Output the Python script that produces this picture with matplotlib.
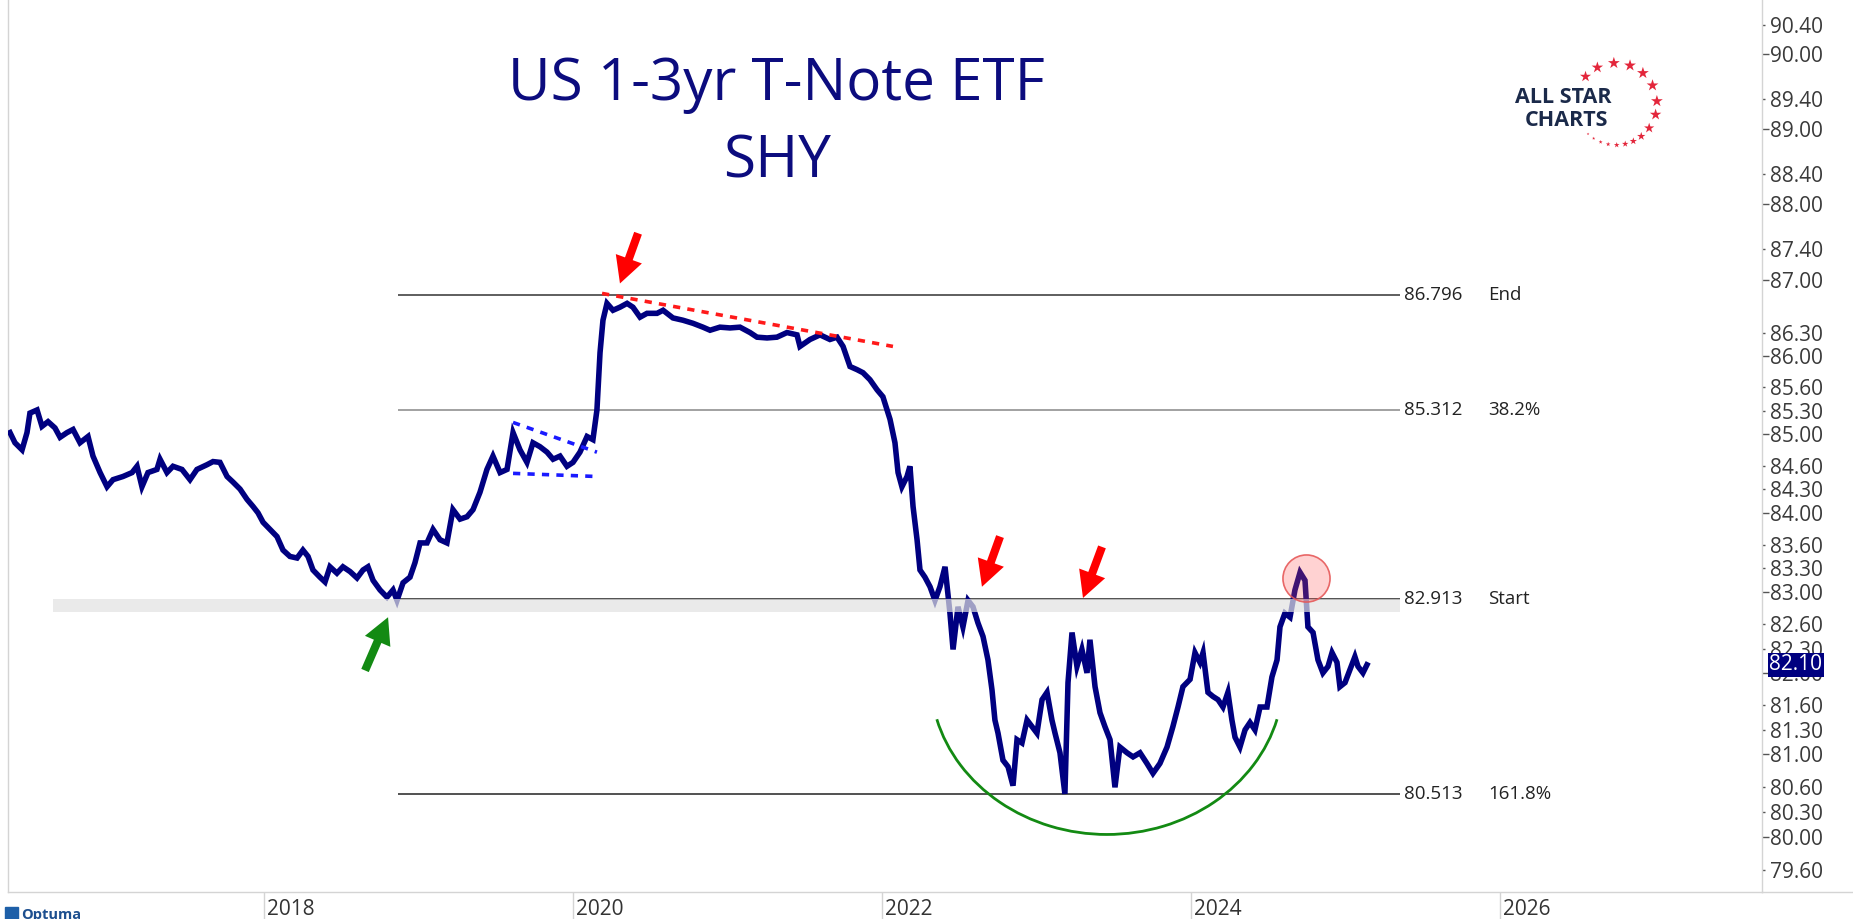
import numpy as np
import matplotlib
matplotlib.use("Agg")
import matplotlib.pyplot as plt
import matplotlib.transforms as mtransforms
from matplotlib.patches import Arc
from matplotlib.ticker import FixedLocator, FormatStrFormatter

plt.rcParams['font.family'] = ['Open Sans', 'DejaVu Sans']

# SHY price path (decimal year, price)
years = [2016.356, 2016.388, 2016.434, 2016.466, 2016.485, 2016.531, 2016.563, 2016.602, 2016.647, 2016.680,
         2016.725, 2016.764, 2016.809, 2016.861, 2016.893, 2016.939, 2016.984, 2017.023, 2017.087, 2017.146,
         2017.178, 2017.210, 2017.249, 2017.307, 2017.327, 2017.372, 2017.411, 2017.469, 2017.521, 2017.566,
         2017.631, 2017.670, 2017.715, 2017.761, 2017.799, 2017.845, 2017.890, 2017.929, 2017.961, 2017.994,
         2018.039, 2018.084, 2018.123, 2018.168, 2018.214, 2018.252, 2018.285, 2018.317, 2018.362, 2018.395,
         2018.427, 2018.472, 2018.511, 2018.557, 2018.602, 2018.641, 2018.673, 2018.706, 2018.751, 2018.796,
         2018.835, 2018.861, 2018.900, 2018.945, 2018.977, 2019.010, 2019.055, 2019.094, 2019.139, 2019.184,
         2019.223, 2019.269, 2019.314, 2019.353, 2019.398, 2019.443, 2019.482, 2019.528, 2019.573, 2019.612,
         2019.657, 2019.702, 2019.741, 2019.786, 2019.832, 2019.871, 2019.916, 2019.961, 2020.000, 2020.045,
         2020.091, 2020.129, 2020.155, 2020.175, 2020.194, 2020.220, 2020.259, 2020.304, 2020.350, 2020.388,
         2020.434, 2020.479, 2020.544, 2020.583, 2020.647, 2020.712, 2020.777, 2020.841, 2020.887, 2020.951,
         2021.016, 2021.081, 2021.146, 2021.191, 2021.256, 2021.320, 2021.385, 2021.450, 2021.469, 2021.534,
         2021.599, 2021.663, 2021.709, 2021.748, 2021.793, 2021.838, 2021.877, 2021.922, 2021.968, 2022.006,
         2022.052, 2022.084, 2022.104, 2022.129, 2022.162, 2022.181, 2022.201, 2022.227, 2022.246, 2022.278,
         2022.311, 2022.343, 2022.375, 2022.408, 2022.440, 2022.460, 2022.492, 2022.524, 2022.557, 2022.589,
         2022.621, 2022.654, 2022.686, 2022.712, 2022.731, 2022.751, 2022.783, 2022.816, 2022.848, 2022.874,
         2022.906, 2022.939, 2022.971, 2023.003, 2023.036, 2023.068, 2023.100, 2023.120, 2023.152, 2023.184,
         2023.204, 2023.230, 2023.262, 2023.294, 2023.327, 2023.346, 2023.379, 2023.411, 2023.443, 2023.476,
         2023.508, 2023.540, 2023.586, 2023.625, 2023.670, 2023.715, 2023.754, 2023.799, 2023.845, 2023.883,
         2023.916, 2023.948, 2023.994, 2024.026, 2024.058, 2024.078, 2024.110, 2024.142, 2024.175, 2024.207,
         2024.239, 2024.265, 2024.285, 2024.317, 2024.350, 2024.382, 2024.414, 2024.447, 2024.492, 2024.524,
         2024.557, 2024.576, 2024.608, 2024.641, 2024.673, 2024.706, 2024.738, 2024.757, 2024.790, 2024.822,
         2024.854, 2024.887, 2024.913, 2024.945, 2024.964, 2024.997, 2025.029, 2025.061, 2025.081, 2025.113,
         2025.139]
prices = [85.02, 84.89, 84.80, 85.02, 85.27, 85.31, 85.10, 85.16, 85.08, 84.96,
          85.02, 85.06, 84.89, 84.97, 84.72, 84.51, 84.33, 84.42, 84.46, 84.51,
          84.59, 84.33, 84.51, 84.55, 84.68, 84.51, 84.59, 84.55, 84.42, 84.55,
          84.61, 84.65, 84.64, 84.46, 84.39, 84.30, 84.17, 84.08, 84.00, 83.88,
          83.79, 83.70, 83.53, 83.45, 83.43, 83.53, 83.45, 83.28, 83.19, 83.13,
          83.32, 83.24, 83.32, 83.26, 83.18, 83.28, 83.32, 83.15, 83.03, 82.94,
          83.03, 82.90, 83.12, 83.19, 83.37, 83.62, 83.62, 83.79, 83.66, 83.62,
          84.04, 83.92, 83.95, 84.04, 84.26, 84.55, 84.72, 84.51, 84.55, 85.02,
          84.80, 84.64, 84.89, 84.84, 84.77, 84.68, 84.72, 84.59, 84.64, 84.77,
          84.97, 84.93, 85.31, 86.05, 86.47, 86.69, 86.60, 86.64, 86.69, 86.64,
          86.51, 86.56, 86.56, 86.60, 86.50, 86.47, 86.43, 86.38, 86.34, 86.38,
          86.37, 86.38, 86.31, 86.25, 86.24, 86.25, 86.31, 86.28, 86.13, 86.22,
          86.28, 86.22, 86.25, 86.13, 85.87, 85.83, 85.79, 85.70, 85.57, 85.48,
          85.19, 84.89, 84.51, 84.33, 84.46, 84.59, 84.08, 83.66, 83.28, 83.19,
          83.07, 82.90, 83.07, 83.32, 82.74, 82.29, 82.82, 82.57, 82.90, 82.82,
          82.62, 82.45, 82.16, 81.79, 81.42, 81.26, 80.93, 80.85, 80.62, 81.18,
          81.14, 81.42, 81.34, 81.26, 81.67, 81.76, 81.42, 81.26, 81.02, 80.52,
          81.88, 82.50, 82.08, 82.29, 82.00, 82.41, 81.83, 81.51, 81.34, 81.18,
          80.60, 81.09, 81.02, 80.97, 81.02, 80.89, 80.77, 80.89, 81.09, 81.34,
          81.58, 81.83, 81.92, 82.25, 82.13, 82.25, 81.76, 81.71, 81.67, 81.58,
          81.76, 81.42, 81.21, 81.09, 81.30, 81.39, 81.30, 81.58, 81.58, 81.95,
          82.16, 82.57, 82.74, 82.69, 83.03, 83.25, 83.15, 82.57, 82.50, 82.16,
          82.00, 82.08, 82.25, 82.13, 81.83, 81.88, 82.04, 82.20, 82.08, 82.00,
          82.10]
last_price = 82.10

# Fibonacci levels
level_values = [86.796, 85.312, 82.913, 80.513]
level_names = ["End", "38.2%", "Start", "161.8%"]
level_colors = ["#333333", "#888888", "#222222", "#222222"]

# trend lines drawn on the chart (year, price pairs)
red_trend_x = [2020.188, 2022.071]
red_trend_y = [86.82, 86.13]
tri_upper_x = [2019.612, 2020.155]
tri_upper_y = [85.15, 84.77]
tri_lower_x = [2019.612, 2020.155]
tri_lower_y = [84.50, 84.46]

# arrows: (tail year, tail price, head year, head price)
red_arrows = [(2020.421, 87.61, 2020.304, 86.95),
              (2022.764, 83.70, 2022.647, 83.07),
              (2023.424, 83.57, 2023.301, 82.93)]
green_arrow = (2018.654, 82.03, 2018.803, 82.69)

y_major = [80, 81, 82, 83, 84, 85, 86, 87, 88, 89, 90]
y_minor = [79.6, 80.3, 80.6, 81.3, 81.6, 82.3, 82.6, 83.3, 83.6, 84.3, 84.6,
           85.3, 85.6, 86.3, 87.4, 88.4, 89.4, 90.4]
x_years = [2018, 2020, 2022, 2024, 2026]

navy = "#000080"
W, H = 1853, 919
fig = plt.figure(figsize=(W / 100, H / 100), dpi=100)
fig.patch.set_facecolor("white")

ax = fig.add_axes([8 / W, 27 / H, 1754 / W, 892 / H])
ax.set_yscale("log")
ax.set_xlim(2016.343, 2027.696)
ax.set_ylim(79.34, 90.74)

ax.plot(years, prices, color=navy, lw=4.0, solid_joinstyle="miter", zorder=3)

# support band around start level
ax.fill_between([2016.634, 2025.353], 82.754, 82.913, color="#e2e2e2", alpha=0.7, lw=0, zorder=4)

for v, name, c in zip(level_values, level_names, level_colors):
    ax.hlines(v, 2018.867, 2025.353, color=c, lw=1.1, zorder=2)
    ax.text(2025.379, v, f"{v:.3f}", fontsize=13.5, color="#222222", va="center", ha="left")
    ax.text(2025.922, v, name, fontsize=13.5, color="#222222", va="center", ha="left")

ax.plot(red_trend_x, red_trend_y, color="#ff1a1a", lw=2.6, dashes=(2, 2), zorder=5)
ax.plot(tri_upper_x, tri_upper_y, color="#1a1aff", lw=2.6, dashes=(2, 2), zorder=5)
ax.plot(tri_lower_x, tri_lower_y, color="#1a1aff", lw=2.6, dashes=(2, 2), zorder=5)

arrow_style = "simple,head_length=0.9,head_width=0.95,tail_width=0.28"
for tx, ty, hx, hy in red_arrows:
    ax.annotate("", xy=(hx, hy), xytext=(tx, ty),
                arrowprops=dict(arrowstyle=arrow_style, color="#ff0000", mutation_scale=21,
                                shrinkA=0, shrinkB=0, lw=0))
tx, ty, hx, hy = green_arrow
ax.annotate("", xy=(hx, hy), xytext=(tx, ty), annotation_clip=False,
            arrowprops=dict(arrowstyle=arrow_style, color="#138a13", mutation_scale=21,
                            shrinkA=0, shrinkB=0, lw=0))

# rounded bottom (green arc) and highlighted 2024 peak
ax.add_patch(Arc((2023.456, 81.92), 2.28, 3.78, theta1=204, theta2=336,
                 color="#138a13", lw=2.0, zorder=5))
ax.scatter([2024.744], [83.18], s=1150, facecolor=(1, 0.3, 0.3, 0.25),
           edgecolor=(0.9, 0.35, 0.35, 0.9), lw=1.2, zorder=6)

# axes styling
ax.spines["top"].set_visible(False)
for side in ["left", "right", "bottom"]:
    ax.spines[side].set_color("#d4d4d4")
    ax.spines[side].set_linewidth(1.0)

ax.yaxis.tick_right()
ax.yaxis.set_major_locator(FixedLocator(y_major))
ax.yaxis.set_minor_locator(FixedLocator(y_minor))
ax.yaxis.set_major_formatter(FormatStrFormatter("%.2f"))
ax.yaxis.set_minor_formatter(FormatStrFormatter("%.2f"))
ax.tick_params(axis="y", which="major", length=5, width=1, color="#555555",
               pad=0.8, labelsize=15, labelcolor="#3a3a3a")
ax.tick_params(axis="y", which="minor", length=2.5, width=1, color="#555555",
               pad=3.3, labelsize=15, labelcolor="#3a3a3a")

ax.set_xticks(x_years)
ax.set_xticklabels([])
ax.tick_params(axis="x", which="major", length=19.5, width=1, color="#d4d4d4")
ax.tick_params(axis="x", which="minor", length=0)
blend = mtransforms.blended_transform_factory(ax.transData, ax.transAxes)
for yr in x_years:
    ax.text(yr + 0.02, -23 / 892, str(yr), transform=blend, fontsize=15,
            color="#333333", ha="left", va="baseline")

ax.text(1.0042, last_price, f"{last_price:.2f}",
        transform=mtransforms.blended_transform_factory(ax.transAxes, ax.transData),
        fontsize=15, color="white", ha="left", va="center", zorder=10,
        bbox=dict(boxstyle="square,pad=0.08", fc=navy, ec="none"))

# overlay in pixel space for title, logo, footer
ov = fig.add_axes([0, 0, 1, 1])
ov.set_xlim(0, W)
ov.set_ylim(H, 0)
ov.axis("off")

ov.text(776, 100, "US 1-3yr T-Note ETF", fontsize=42, color="#0c0c7e", ha="center", va="baseline")
ov.text(777, 177, "SHY", fontsize=42, color="#0c0c7e", ha="center", va="baseline")

ov.plot([1762, W], [892, 892], color="#d4d4d4", lw=1.0)

ov.text(1563, 103, "ALL STAR", fontsize=15.5, fontweight="bold", color="#1b2a4a", ha="center", va="baseline")
ov.text(1566, 126, "CHARTS", fontsize=15.5, fontweight="bold", color="#1b2a4a", ha="center", va="baseline")
star_angles = [138, 117, 93, 70, 49, 27, 4, -15, -36, -52, -65, -77, -89, -101, -112, -123, -133]
star_sizes = [70, 75, 80, 80, 80, 80, 80, 75, 60, 40, 30, 24, 18, 12, 9, 6, 4]
ang = np.radians(star_angles)
ov.scatter(1616 + 41 * np.cos(ang), 104 - 41 * np.sin(ang), s=star_sizes,
           marker="*", color="#e3263b", lw=0)

ov.add_patch(plt.Rectangle((5, 907), 13, 13, color="#1d5fa8"))
ov.text(21, 908, "Optuma", fontsize=10.5, fontweight="bold", color="#1d4f8f", ha="left", va="top")

fig.savefig("out.png", dpi=100, facecolor="white")
